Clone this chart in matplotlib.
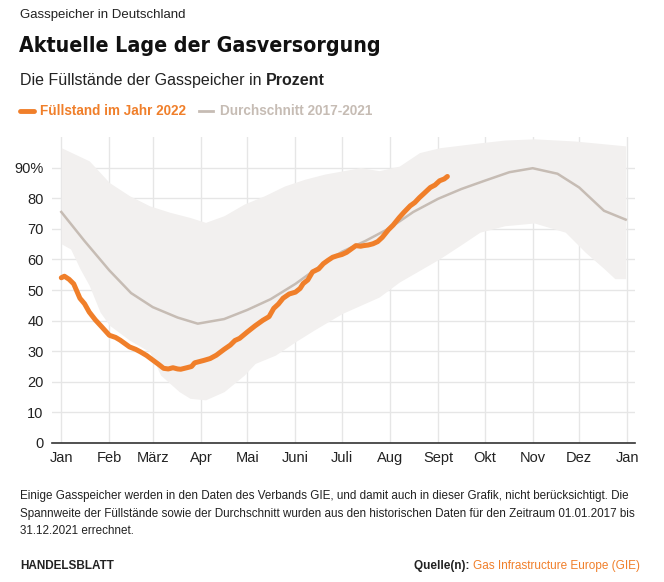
import matplotlib.pyplot as plt
import numpy as np

# day of year (0 = 1 Jan)
avg_days = [0, 15, 31, 45, 59, 75, 88, 105, 120, 135, 151, 166, 181, 196, 212,
            227, 243, 258, 273, 289, 304, 320, 334, 350, 364]
avg_vals = [75.5, 66, 56.4, 49, 44.4, 41, 39, 40.5, 43.5, 47, 52, 57.5, 62.5, 66, 70.3,
            75.5, 79.8, 83, 85.7, 88.5, 89.8, 88, 83.5, 75.9, 73]

upper_days = [0, 18, 25, 31, 44, 57, 70, 83, 93, 105, 118, 131, 144, 157, 170, 181,
              193, 205, 218, 231, 244, 270, 286, 305, 331, 364]
upper_vals = [96.5, 92.2, 88.4, 85.1, 80.8, 77.5, 75.4, 73.7, 72.1, 74.3, 78.1, 80.8, 84,
              86.2, 87.9, 88.9, 90, 89, 90.5, 94.9, 96.5, 98.1, 99, 99.4, 98.7, 97.1]
lower_days = [0, 6, 12, 18, 25, 31, 44, 57, 64, 70, 76, 83, 93, 105, 118, 125, 138, 151,
              163, 181, 193, 205, 218, 231, 244, 257, 270, 286, 305, 325, 338, 350, 357, 364]
lower_vals = [65.1, 63.4, 57, 51.5, 42.8, 38.5, 33.6, 29.8, 22.2, 19.5, 16.8, 14.6, 14.1,
              16.8, 22.2, 26, 28.7, 33.1, 36.9, 42.3, 45, 47.7, 52.6, 56.4, 60.2, 64.5,
              68.9, 71, 71.9, 68.9, 62.3, 57, 53.7, 53.7]

y22_days = [0, 2, 5, 8, 12, 15, 18, 22, 26, 31, 35, 38, 44, 48, 51, 55, 59, 63, 66, 69,
            72, 75, 77, 81, 84, 86, 89, 92, 96, 100, 105, 109, 112, 115, 120, 125, 130,
            134, 137, 140, 143, 147, 151, 154, 156, 159, 162, 166, 169, 172, 175, 178,
            181, 184, 187, 190, 193, 195, 198, 201, 204, 207, 211, 214, 218, 221, 225,
            228, 231, 234, 238, 241, 244, 247, 249]
y22_vals = [54, 54.5, 53.5, 52, 47.3, 45.5, 42.8, 40.2, 38, 35.2, 34.5, 33.6, 31.4, 30.6,
            29.8, 28.6, 27.1, 25.6, 24.4, 24.2, 24.6, 24.2, 24.1, 24.6, 25, 26.2, 26.6,
            27, 27.6, 28.7, 30.6, 32, 33.5, 34.2, 36.3, 38.3, 40.1, 41.3, 44, 45.4,
            47.3, 48.7, 49.3, 50.5, 52.1, 53.3, 55.9, 56.9, 58.6, 59.7, 60.7, 61.2,
            61.6, 62.3, 63.4, 64.5, 64.3, 64.5, 64.7, 65.1, 65.8, 67.2, 69.7, 71.2,
            73.7, 75.4, 77.5, 78.6, 80.2, 81.6, 83.5, 84.3, 85.7, 86.3, 87.1]

month_days = [0, 31, 59, 90, 120, 151, 181, 212, 243, 273, 304, 334, 365]
month_labels = ["Jan", "Feb", "März", "Apr", "Mai", "Juni", "Juli", "Aug", "Sept",
                "Okt", "Nov", "Dez", "Jan"]
y_ticks = [0, 10, 20, 30, 40, 50, 60, 70, 80, 90]
y_labels = ["0", "10", "20", "30", "40", "50", "60", "70", "80", "90%"]

ORANGE = "#f07f2a"
GREY = "#c6bcb4"
BAND = "#f2f0ef"
GRID = "#e6e6e6"
TXT = "#222222"

plt.rcParams["font.family"] = ["Liberation Sans", "DejaVu Sans"]

W, H = 664, 582
fig = plt.figure(figsize=(W / 100, H / 100), dpi=100)
ax = fig.add_axes([52 / W, 1 - 443 / H, (635 - 52) / W, (443 - 137) / H])

band_x = np.arange(0, 365)
ax.fill_between(band_x, np.interp(band_x, lower_days, lower_vals),
                np.interp(band_x, upper_days, upper_vals), color=BAND, lw=0, zorder=1)
ax.plot(avg_days, avg_vals, color=GREY, lw=1.8, zorder=3)
ax.plot(y22_days, y22_vals, color=ORANGE, lw=3.6, zorder=4, solid_capstyle="round",
        solid_joinstyle="round")

ax.set_xlim(-6, 370)
ax.set_ylim(0, 100)
ax.set_xticks(month_days)
ax.set_xticklabels(month_labels)
ax.set_yticks(y_ticks)
ax.set_yticklabels(y_labels)
ax.grid(True, color=GRID, lw=1.0, zorder=0)
ax.set_axisbelow(True)
for s in ["top", "right", "left"]:
    ax.spines[s].set_visible(False)
ax.spines["bottom"].set_color("#333333")
ax.spines["bottom"].set_linewidth(1.2)
ax.tick_params(length=0, labelsize=10.5, colors=TXT, pad=6)


def px(x, y):
    return x / W, 1 - y / H


def fit(t, width):
    # shrink/grow a text so it spans the given pixel width
    fig.canvas.draw()
    w = t.get_window_extent().width
    t.set_fontsize(t.get_fontsize() * width / w)


fig.text(*px(20, 15), "Gasspeicher in Deutschland", fontsize=9.5, color=TXT, va="center")
title = fig.text(*px(19, 46), "Aktuelle Lage der Gasversorgung", fontsize=19,
                 fontweight="bold", color="#111111", va="center",
                 fontstretch="condensed", family=["DejaVu Sans"])
fit(title, 360)

t1 = fig.text(*px(20, 81), "Die Füllstände der Gasspeicher in ", fontsize=11.5, color=TXT,
              va="center")
fig.canvas.draw()
bb = t1.get_window_extent()
fig.text(bb.x1 / W, 1 - 81 / H, "Prozent", fontsize=11.5, fontweight="bold", color=TXT,
         va="center")

# legend row
fig.add_artist(plt.Line2D([20 / W, 34 / W], [1 - 111 / H] * 2, color=ORANGE, lw=3.5,
                          solid_capstyle="round"))
l1 = fig.text(*px(40, 111), "Füllstand im Jahr 2022", fontsize=10, fontweight="bold",
              color=ORANGE, va="center")
fit(l1, 146)
fig.add_artist(plt.Line2D([199 / W, 213 / W], [1 - 111 / H] * 2, color=GREY, lw=2))
l2 = fig.text(*px(220, 111), "Durchschnitt 2017-2021", fontsize=10, fontweight="bold",
              color=GREY, va="center")
fit(l2, 153)

note_lines = ["Einige Gasspeicher werden in den Daten des Verbands GIE, und damit auch in "
              "dieser Grafik, nicht berücksichtigt. Die",
              "Spannweite der Füllstände sowie der Durchschnitt wurden aus den historischen "
              "Daten für den Zeitraum 01.01.2017 bis",
              "31.12.2021 errechnet."]
n1 = fig.text(*px(20, 496), note_lines[0], fontsize=8, color=TXT, va="center")
fit(n1, 613)
fs = n1.get_fontsize()
fig.text(*px(20, 514), note_lines[1], fontsize=fs, color=TXT, va="center")
fig.text(*px(20, 531), note_lines[2], fontsize=fs, color=TXT, va="center")

fig.text(*px(20, 566), "HANDELSBLATT", fontsize=8.5, fontweight="bold", color=TXT,
         va="center")
src = fig.text(*px(640, 566), "Gas Infrastructure Europe (GIE)", fontsize=8.5,
               color=ORANGE, va="center", ha="right")
fig.canvas.draw()
sb = src.get_window_extent()
fig.text(sb.x0 / W, 1 - 566 / H, "Quelle(n): ", fontsize=8.5, fontweight="bold",
         color=TXT, va="center", ha="right")

fig.savefig("out.png", dpi=100, facecolor="white")
